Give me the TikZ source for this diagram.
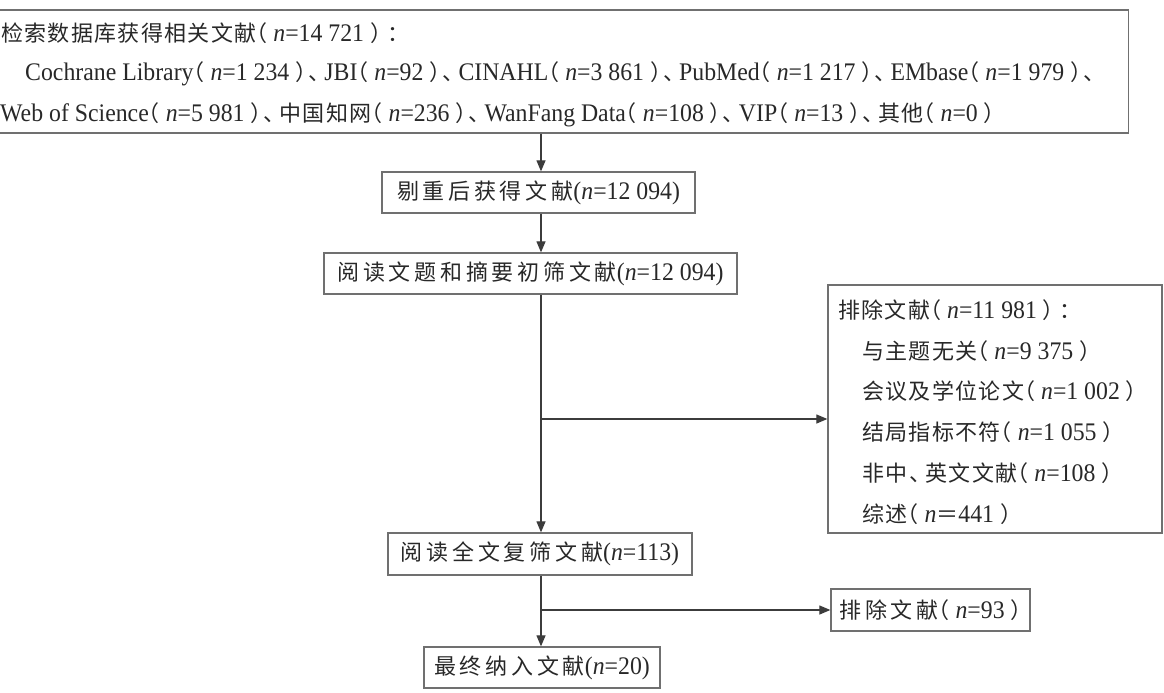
\documentclass[tikz,border=0pt]{standalone}
\usepackage{fontspec}
\setmainfont{Liberation Serif}[Scale=1.15, FakeStretch=0.94]
\newfontfamily\cjk[LetterSpace=6]{Noto Sans CJK SC}
\newfontfamily\cjkw[LetterSpace=17]{Noto Sans CJK SC}
\newfontfamily\cjkp[RawFeature=+halt]{Noto Sans CJK SC}
\usetikzlibrary{arrows.meta, positioning}
\definecolor{cedge}{HTML}{707070}
\definecolor{cline}{HTML}{3C3C3C}
\definecolor{ctext}{HTML}{282828}
\newcommand{\zh}[1]{{\cjk #1}}
\newcommand{\zhw}[1]{{\cjkw #1}}
\newcommand{\nval}[1]{\textit{n}=#1}
\newcommand{\lp}{{\cjkp （}\hspace{6pt}}
\newcommand{\rp}{\hspace{6pt}{\cjkp ）}}
\newcommand{\dun}{\hspace{2pt}{\cjkp 、}\hspace{5pt}}
\tikzset{
  every picture/.style={x=1pt, y=-1pt, font=\fontsize{22}{26}\selectfont},
  box/.style={draw=cedge, line width=1.3pt, inner sep=0pt, text=ctext},
  txtline/.style={text=ctext, inner sep=0pt, anchor=west},
  arrow/.style={-{Triangle[length=11pt, width=9pt]}, draw=cline, line width=1.2pt},
}

\begin{document}
\begin{tikzpicture}
  \useasboundingbox (0,0) rectangle (1164,693);
  % search box
  \node[box, minimum width=1135pt, minimum height=123pt] (search) at (561,71.5) {};
  \node[txtline] (search1) at (1,33) {\zh{检索数据库获得相关文献}\lp\nval{14~721}\rp\hspace{6pt}\zh{：}};
  \node[txtline] (search2) at (25,74) {Cochrane Library\lp\nval{1~234}\rp\dun JBI\lp\nval{92}\rp\dun CINAHL\lp\nval{3~861}\rp\dun PubMed\lp\nval{1~217}\rp\dun EMbase\lp\nval{1~979}\rp\dun};
  \node[txtline] (search3) at (0,115) {Web of Science\lp\nval{5~981}\rp\dun\zh{中国知网}\lp\nval{236}\rp\dun WanFang Data\lp\nval{108}\rp\dun VIP\lp\nval{13}\rp\dun\zh{其他}\lp\nval{0}\rp};
  % main column
  \node[box, minimum width=313pt, minimum height=41pt] (dedup) at (538.5,192.5) {\zhw{剔重后获得文献}(\nval{12~094})};
  \node[box, minimum width=413pt, minimum height=41pt] (title) at (530.5,273.5) {\zhw{阅读文题和摘要初筛文献}(\nval{12~094})};
  \node[box, minimum width=304pt, minimum height=42pt] (full) at (540,554) {\zhw{阅读全文复筛文献}(\nval{113})};
  \node[box, minimum width=236pt, minimum height=41pt] (final) at (542,667.5) {\zhw{最终纳入文献}(\nval{20})};
  % exclusions
  \node[box, minimum width=334pt, minimum height=248pt] (excl1) at (995,409) {};
  \node[txtline] (excl1t) at (838,310) {\zh{排除文献}\lp\nval{11~981}\rp\hspace{6pt}\zh{：}};
  \foreach \t [count=\i] in {%
      {\zh{与主题无关}\lp\nval{9~375}\rp},
      {\zh{会议及学位论文}\lp\nval{1~002}\rp},
      {\zh{结局指标不符}\lp\nval{1~055}\rp},
      {\zh{非中}\dun\zh{英文文献}\lp\nval{108}\rp},
      {\zh{综述}\lp\textit{n}\zh{＝}441\rp}}
    \node[txtline] (excl1r\i) at (862,310+40.8*\i) {\t};
  \node[box, minimum width=199pt, minimum height=42pt] (excl2) at (930.5,610) {\zhw{排除文献}\lp\nval{93}\rp};
  % connectors
  \coordinate (fork1) at (541,419);
  \coordinate (fork2) at (541,610);
  \draw[arrow] (search.south -| fork1) -- (dedup.north -| fork1);
  \draw[arrow] (dedup.south -| fork1) -- (title.north -| fork1);
  \draw[arrow] (title.south -| fork1) -- (full.north -| fork1);
  \draw[arrow] (fork1) -- (fork1 -| excl1.west);
  \draw[arrow] (full.south -| fork2) -- (final.north -| fork2);
  \draw[arrow] (fork2) -- (fork2 -| excl2.west);
\end{tikzpicture}
\end{document}
